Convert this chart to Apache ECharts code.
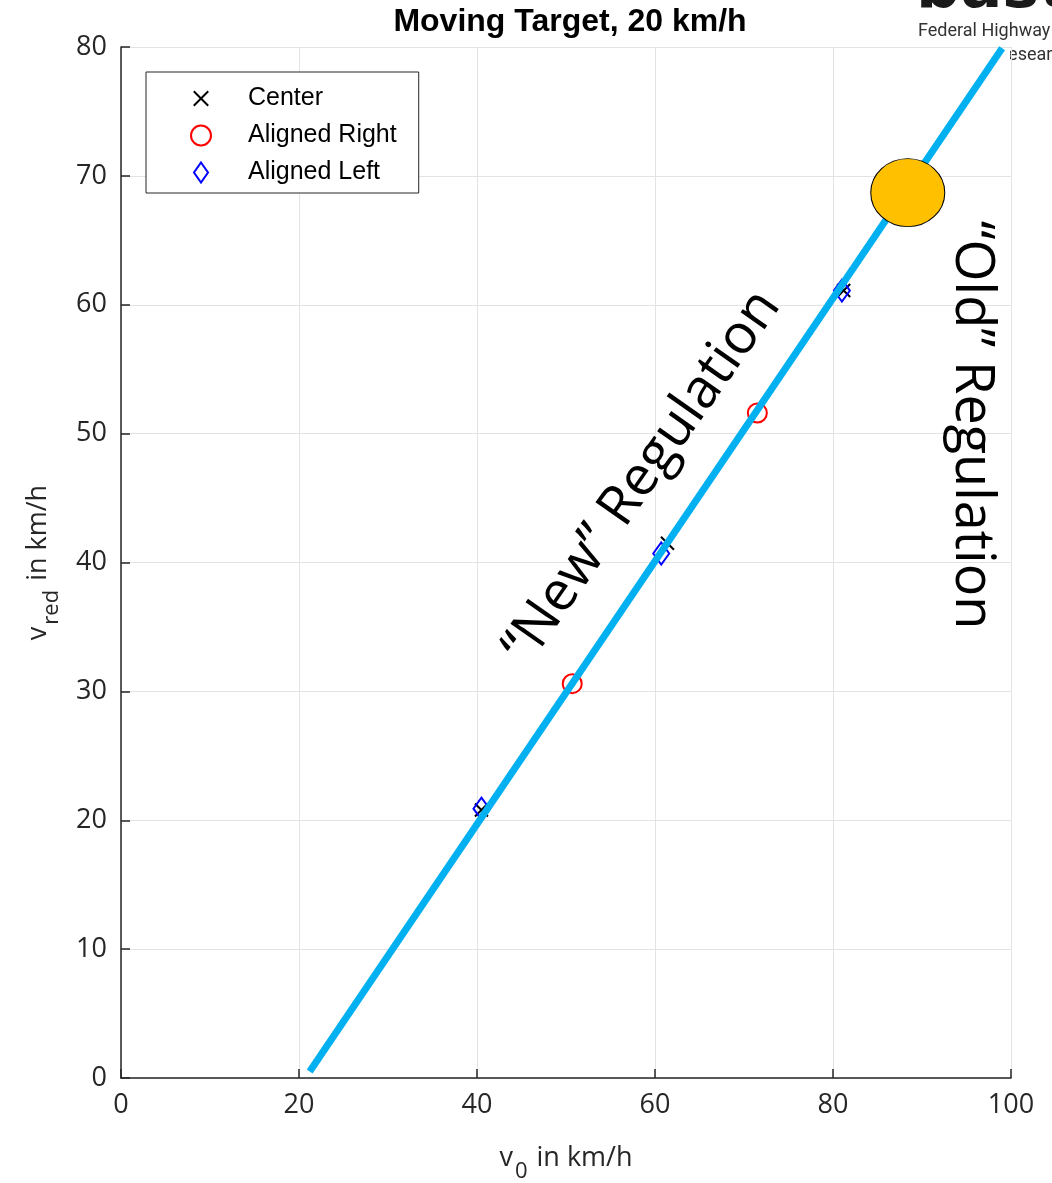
<!DOCTYPE html>
<html>
<head>
<meta charset="utf-8">
<script src="https://cdn.jsdelivr.net/npm/echarts@6/dist/echarts.min.js"></script>
<style>
  html, body { margin: 0; padding: 0; background: #fff; }
  #chart { width: 1052px; height: 1183px; }
</style>
</head>
<body>
<div id="chart"></div>
<script>
// Speed reduction measurements, moving target at 20 km/h
const centerV0   = [40.5, 61.4, 81.2];
const centerVred = [20.8, 41.5, 61.1];
const rightV0    = [50.7, 71.5];
const rightVred  = [30.6, 51.6];
const leftV0     = [40.5, 60.7, 81.0];
const leftVred   = [20.9, 40.7, 61.1];
// "New" regulation requirement line
const lineV0     = [21.2, 99.0];
const lineVred   = [0.5, 79.9];
// "Old" regulation point
const oldV0      = [88.4];
const oldVred    = [68.7];

const xTickStep = 20, yTickStep = 10;

const pair = (xs, ys) => xs.map((x, i) => [x, ys[i]]);

const AX = '#262626';
const GRID = '#e3e3e3';
const SANS = '"Open Sans", sans-serif';
const ARIAL = '"Liberation Sans", Arial, sans-serif';

// × marker padded to an 18x18 box so legend and plot share one size
const crossPath = 'path://M0,0M18,18M2.5,2.5L15.5,15.5M15.5,2.5L2.5,15.5';
const diamondPath = 'path://M7,0L14,10L7,20L0,10Z';

const nameRich = {
  v: { fontFamily: SANS, fontSize: 27, color: AX, verticalAlign: 'top', lineHeight: 30 },
  t: { fontFamily: SANS, fontSize: 27, color: AX, verticalAlign: 'top', lineHeight: 30 },
  sub: { fontFamily: SANS, fontSize: 22, color: AX, verticalAlign: 'top', lineHeight: 22, padding: [16, 2, 0, 2] }
};

const chart = echarts.init(document.getElementById('chart'), null, { renderer: 'canvas' });

chart.setOption({
  animation: false,
  backgroundColor: '#fff',
  title: {
    text: 'Moving Target, 20 km/h',
    left: 565,
    textAlign: 'center',
    top: 1,
    textStyle: { fontFamily: ARIAL, fontWeight: 'bold', fontSize: 32, color: '#000' }
  },
  grid: { left: 121, right: 41, top: 47, bottom: 105, containLabel: false, outerBoundsMode: 'none' },
  legend: {
    orient: 'vertical',
    left: 146,
    top: 72,
    data: ['Center', 'Aligned Right', 'Aligned Left'],
    selectedMode: false,
    itemWidth: 20,
    itemHeight: 20,
    itemGap: 12,
    padding: [14, 22, 8, 44],
    backgroundColor: '#fff',
    borderColor: AX,
    borderWidth: 1,
    borderRadius: 0,
    textStyle: { fontFamily: ARIAL, fontSize: 25, color: '#000', padding: [0, 0, 0, 32] }
  },
  xAxis: {
    type: 'value',
    min: 0, max: 100, interval: xTickStep,
    name: '{v|v}{sub|0}{t| in km/h}',
    nameLocation: 'middle',
    nameGap: 67,
    nameTextStyle: { rich: nameRich },
    axisLine: { show: true, onZero: false, lineStyle: { color: AX, width: 1.5 } },
    axisTick: { show: true, inside: true, length: 9, lineStyle: { color: AX, width: 1.5 } },
    axisLabel: { margin: 14, fontFamily: SANS, fontSize: 27, color: AX },
    splitLine: { show: true, lineStyle: { color: GRID, width: 1 } }
  },
  yAxis: {
    type: 'value',
    min: 0, max: 80, interval: yTickStep,
    name: '{v|v}{sub|red}{t| in km/h}',
    nameLocation: 'middle',
    nameGap: 66,
    nameRotate: 90,
    nameTextStyle: { rich: nameRich },
    axisLine: { show: true, onZero: false, lineStyle: { color: AX, width: 1.5 } },
    axisTick: { show: true, inside: true, length: 9, lineStyle: { color: AX, width: 1.5 } },
    axisLabel: { margin: 14, fontFamily: SANS, fontSize: 27, color: AX },
    splitLine: { show: true, lineStyle: { color: GRID, width: 1 } }
  },
  series: [
    {
      name: 'Center',
      type: 'scatter',
      z: 2,
      symbol: crossPath,
      symbolSize: 18,
      itemStyle: { color: 'rgba(0,0,0,0)', borderColor: '#000', borderWidth: 2, opacity: 1 },
      data: pair(centerV0, centerVred)
    },
    {
      name: 'Aligned Right',
      type: 'scatter',
      z: 2,
      symbol: 'circle',
      symbolSize: 19,
      itemStyle: { color: 'rgba(0,0,0,0)', borderColor: '#ff0000', borderWidth: 2, opacity: 1 },
      data: pair(rightV0, rightVred)
    },
    {
      name: 'Aligned Left',
      type: 'scatter',
      z: 2,
      symbol: diamondPath,
      symbolSize: [16, 22],
      itemStyle: { color: 'rgba(0,0,0,0)', borderColor: '#0000ff', borderWidth: 2, opacity: 1 },
      data: pair(leftV0, leftVred)
    },
    {
      name: 'New Regulation',
      type: 'line',
      z: 3,
      symbol: 'none',
      lineStyle: { color: '#00b0f0', width: 7, cap: 'butt', opacity: 1 },
      data: pair(lineV0, lineVred)
    },
    {
      name: 'Old Regulation',
      type: 'scatter',
      z: 4,
      symbol: 'circle',
      symbolSize: [74, 68],
      itemStyle: { color: '#ffc000', borderColor: '#000', borderWidth: 1, opacity: 1 },
      data: pair(oldV0, oldVred)
    }
  ],
  graphic: [
    // institute logo in the top-right corner
    {
      type: 'text', z: 0, x: 916, y: 22,
      style: { text: 'bast', font: 'bold 62px "DejaVu Sans", sans-serif', fill: '#1a1a1a', textAlign: 'left', textVerticalAlign: 'bottom' }
    },
    {
      type: 'text', z: 0, x: 918, y: 31,
      style: { text: 'Federal Highway', font: '18px Roboto, sans-serif', fill: '#333', textAlign: 'left', textVerticalAlign: 'middle' }
    },
    {
      type: 'text', z: 0, x: 997, y: 55,
      style: { text: 'Research Institute', font: '18px Roboto, sans-serif', fill: '#333', textAlign: 'left', textVerticalAlign: 'middle' }
    },
    {
      type: 'rect', z: 1, silent: true,
      shape: { x: 918, y: 48, width: 92, height: 24 },
      style: { fill: '#fff' }
    },
    // regulation annotations
    {
      type: 'text', z: 5, x: 642, y: 477, rotation: 55 * Math.PI / 180,
      style: { text: '\u201CNew\u201D Regulation', font: '55px "Open Sans", sans-serif', fill: '#000', textAlign: 'center', textVerticalAlign: 'middle' }
    },
    {
      type: 'text', z: 5, x: 971, y: 425, rotation: -Math.PI / 2,
      style: { text: '\u201COld\u201D Regulation', font: '54px "Open Sans", sans-serif', fill: '#000', textAlign: 'center', textVerticalAlign: 'middle' }
    }
  ]
});
</script>
</body>
</html>
